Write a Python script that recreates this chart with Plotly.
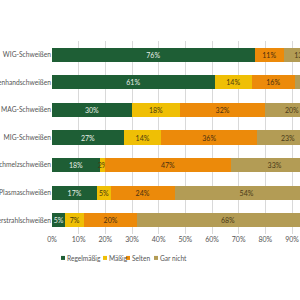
import plotly.graph_objects as go

categories = ["WIG-Schweißen", "Lichtbogenhandschweißen", "MAG-Schweißen", "MIG-Schweißen",
              "Gasschmelzschweißen", "Plasmaschweißen", "Laserstrahlschweißen"]
regelmaessig = [76, 61, 30, 27, 18, 17, 5]
maessig = [0, 14, 18, 14, 2, 5, 7]
selten = [11, 16, 32, 36, 47, 24, 20]
gar_nicht = [13, 9, 20, 23, 33, 54, 68]
series_names = ["Regelmäßig", "Mäßig", "Selten", "Gar nicht"]
tick_vals = [0, 10, 20, 30, 40, 50, 60, 70, 80, 90]
tick_text = ["0%", "10%", "20%", "30%", "40%", "50%", "60%", "70%", "80%", "90%"]

colors = ["#1e5e35", "#efbf05", "#ec8a0a", "#b39c55"]
text_colors = ["#e8efe6", "#4a3a10", "#4a3010", "#4a3a18"]
FONT = "Lato"

fig = go.Figure()
for name, vals, c, tc in zip(series_names, [regelmaessig, maessig, selten, gar_nicht], colors, text_colors):
    fig.add_trace(go.Bar(
        y=categories, x=vals, name=name, orientation="h",
        marker=dict(color=c, line=dict(width=0)),
        text=[f"{v}%" if v > 0 else "" for v in vals],
        textposition="inside", insidetextanchor="middle", textangle=0,
        textfont=dict(color=tc, size=7, family=FONT),
        constraintext="none", showlegend=False,
    ))

# legend drawn as small coloured squares (shapes) and text
PLOT_W, PLOT_H = 248.0, 193.0
legend_px = [61, 103, 126, 154]
ly = -0.124
sq = 4.0
for name, c, px in zip(series_names, colors, legend_px):
    x0 = (px - 52) / PLOT_W
    fig.add_shape(type="rect", xref="paper", yref="paper",
                  x0=x0, x1=x0 + sq / PLOT_W, y0=ly - sq / 2 / PLOT_H, y1=ly + sq / 2 / PLOT_H,
                  fillcolor=c, line=dict(width=0))
    fig.add_annotation(
        xref="paper", yref="paper", x=x0 + (sq + 0.5) / PLOT_W, y=ly, xanchor="left", yanchor="middle",
        text=name, showarrow=False, borderpad=0,
        font=dict(size=6.6, color="#555555", family=FONT),
    )

fig.update_layout(
    barmode="stack",
    width=300, height=300,
    margin=dict(l=52, r=0, t=41, b=66, autoexpand=False),
    paper_bgcolor="white", plot_bgcolor="white",
    bargap=0.49,
    uniformtext=dict(minsize=7, mode="show"),
    font=dict(family=FONT, size=7, color="#555555"),
    xaxis=dict(range=[0, 93], tickvals=tick_vals, ticktext=tick_text,
               showgrid=True, gridcolor="#d9d9d9", gridwidth=1, zeroline=False,
               tickfont=dict(size=7, color="#555555", family=FONT), ticks="", fixedrange=True,
               automargin=False),
    yaxis=dict(autorange="reversed", showgrid=False, ticks="", ticklen=0, automargin=False,
               tickfont=dict(size=6.7, color="#555555", family=FONT)),
    showlegend=False,
)
fig.write_html("out.html")
